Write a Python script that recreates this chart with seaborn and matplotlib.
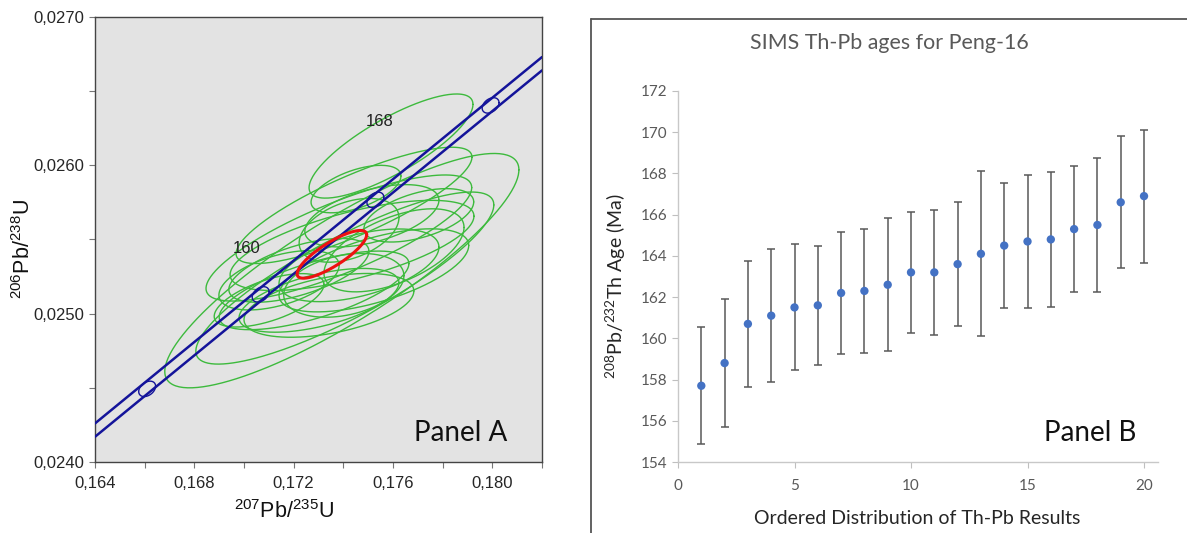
import numpy as np
import matplotlib
matplotlib.use("Agg")
import matplotlib.pyplot as plt
from matplotlib.lines import Line2D
from matplotlib.ticker import FuncFormatter, MultipleLocator
import seaborn as sns

# ---- Panel A: U-Pb concordia, 2-sigma error ellipses ----
ell_x = [0.17592, 0.17394, 0.17406, 0.17382, 0.17443, 0.17435, 0.17515, 0.17451,
         0.17302, 0.17342, 0.17282, 0.17402, 0.17463, 0.17523, 0.17221, 0.17141,
         0.17604, 0.17101, 0.17423, 0.17704]
ell_y = [0.026130, 0.025290, 0.025240, 0.025510, 0.025730, 0.025460, 0.025660, 0.025840,
         0.025090, 0.025056, 0.025157, 0.025191, 0.025326, 0.025292, 0.025292, 0.025225,
         0.025427, 0.025090, 0.025562, 0.025663]
ell_sx = [0.00330, 0.00713, 0.00600, 0.00535, 0.00475, 0.00491, 0.00270, 0.00181,
          0.00322, 0.00342, 0.00382, 0.00242, 0.00322, 0.00382, 0.00282, 0.00242,
          0.00282, 0.00221, 0.00201, 0.00221]
ell_sy = [0.000351, 0.000790, 0.000580, 0.000425, 0.000392, 0.000304, 0.000210, 0.000160,
          0.000215, 0.000215, 0.000265, 0.000215, 0.000245, 0.000280, 0.000215, 0.000200,
          0.000280, 0.000180, 0.000215, 0.000180]
ell_rho = [0.80, 0.86, 0.85, 0.80, 0.83, 0.65, 0.50, 0.55,
           0.55, 0.45, 0.68, 0.30, 0.50, 0.60, 0.60, 0.50,
           0.55, 0.60, 0.40, 0.50]

# concordia age ellipse
mean_x, mean_y, mean_sx, mean_sy, mean_rho = 0.17354, 0.025400, 0.00140, 0.000161, 0.82

# concordia band (decay constant errors) and age markers
conc_x = [0.164, 0.182]
conc_upper = [0.02426, 0.02673]
conc_lower = [0.02417, 0.02664]
marker_age = [156, 160, 164, 168]
marker_x = [0.16610, 0.17067, 0.17529, 0.17993]
marker_y = [0.024493, 0.025130, 0.025767, 0.026404]
label_age = ["160", "168"]
label_x = [0.17012, 0.17547]
label_y = [0.025440, 0.026298]

# ---- Panel B: SIMS Th-Pb ages ----
spot = list(range(1, 21))
age = [157.7, 158.8, 160.7, 161.1, 161.5, 161.6, 162.2, 162.3, 162.6, 163.2,
       163.2, 163.6, 164.1, 164.5, 164.7, 164.8, 165.3, 165.5, 166.6, 166.9]
err = [2.84, 3.10, 3.04, 3.21, 3.06, 2.87, 2.95, 3.00, 3.23, 2.94,
       3.02, 3.02, 4.00, 3.04, 3.21, 3.26, 3.07, 3.26, 3.21, 3.23]


def ellipse(cx, cy, sx, sy, rho, n=240):
    t = np.linspace(0, 2 * np.pi, n)
    x = cx + sx * np.cos(t)
    y = cy + sy * (rho * np.cos(t) + np.sqrt(1 - rho ** 2) * np.sin(t))
    return x, y


sns.set_theme(style="white")
plt.rcParams['font.family'] = ['Liberation Sans', 'DejaVu Sans']
plt.rcParams['mathtext.default'] = 'regular'
LATO = ['Lato', 'DejaVu Sans']

fig = plt.figure(figsize=(11.87, 5.33), dpi=100)
W, H = 1187, 533

# ---------------- Panel A ----------------
axA = fig.add_axes([95 / W, 1 - 462 / H, (542 - 95) / W, (462 - 17) / H])
axA.set_facecolor('#e3e3e3')

for cx, cy, sx, sy, r in zip(ell_x, ell_y, ell_sx, ell_sy, ell_rho):
    ex, ey = ellipse(cx, cy, sx, sy, r)
    axA.plot(ex, ey, color='#3dba3d', lw=1.0, zorder=2)

axA.plot(conc_x, conc_upper, color='#14149a', lw=1.8, zorder=3)
axA.plot(conc_x, conc_lower, color='#14149a', lw=1.8, zorder=3)
for mx, my in zip(marker_x, marker_y):
    ex, ey = ellipse(mx, my, 0.00034, 0.000052, 0.35)
    axA.plot(ex, ey, color='#14149a', lw=1.0, zorder=3)

ex, ey = ellipse(mean_x, mean_y, mean_sx, mean_sy, mean_rho)
axA.plot(ex, ey, color='#ee1111', lw=2.2, zorder=4)

for lab, lx, ly in zip(label_age, label_x, label_y):
    axA.text(lx, ly, lab, fontsize=12, color='#222222', ha='center', va='center', zorder=5)

axA.set_xlim(0.164, 0.182)
axA.set_ylim(0.0240, 0.0270)
axA.xaxis.set_major_locator(MultipleLocator(0.004))
axA.xaxis.set_minor_locator(MultipleLocator(0.002))
axA.yaxis.set_major_locator(MultipleLocator(0.001))
axA.yaxis.set_minor_locator(MultipleLocator(0.0005))
axA.xaxis.set_major_formatter(FuncFormatter(lambda v, p: f"{v:.3f}".replace('.', ',')))
axA.yaxis.set_major_formatter(FuncFormatter(lambda v, p: f"{v:.4f}".replace('.', ',')))
axA.tick_params(which='both', direction='out', length=4, width=0.8, color='#777777',
                labelsize=12, labelcolor='#262626', bottom=True, left=True)
axA.tick_params(axis='x', which='major', pad=6)
for s in axA.spines.values():
    s.set_color('#444444')
    s.set_linewidth(1.0)
axA.set_xlabel(r'$^{207}$Pb/$^{235}$U', fontsize=15.5, color='#111111')
axA.set_ylabel(r'$^{206}$Pb/$^{238}$U', fontsize=15.5, color='#111111')
axA.xaxis.set_label_coords(0.423, -0.085)
axA.yaxis.set_label_coords(-0.135, 0.479)
axA.text(0.714, 0.047, "Panel A", transform=axA.transAxes, fontsize=20,
         family=LATO, color='#111111', zorder=6)

# ---------------- Panel B ----------------
axB = fig.add_axes([678 / W, 1 - 462 / H, (1158 - 678) / W, (462 - 91) / H])
axB.errorbar(spot, age, yerr=err, fmt='none', ecolor='#595959', elinewidth=1.1,
             capsize=2.6, capthick=1.1, zorder=2)
sns.scatterplot(x=spot, y=age, ax=axB, color='#4472c4', s=36, edgecolor='none', zorder=3)
axB.set_xlim(0, 20.6)
axB.set_ylim(154, 172)
axB.set_xticks([0, 5, 10, 15, 20])
axB.set_yticks(list(range(154, 173, 2)))
axB.tick_params(direction='out', length=4, width=0.8, color='#bfbfbf',
                labelsize=11, labelcolor='#595959', bottom=True, left=True)
axB.tick_params(axis='x', pad=8)
for lbl in axB.get_xticklabels() + axB.get_yticklabels():
    lbl.set_fontfamily(LATO)
for side in ['top', 'right']:
    axB.spines[side].set_visible(False)
for side in ['left', 'bottom']:
    axB.spines[side].set_color('#c8c8c8')
    axB.spines[side].set_linewidth(1.0)
axB.set_xlabel("Ordered Distribution of Th-Pb Results", fontsize=14, color='#262626',
               family=LATO)
axB.set_ylabel(r'$^{208}$Pb/$^{232}$Th Age (Ma)', fontsize=14, color='#262626',
               family=LATO)
axB.xaxis.set_label_coords(0.499, -0.13)
axB.yaxis.set_label_coords(-0.105, 0.474)
axB.text(0.7625, 0.057, "Panel B", transform=axB.transAxes, fontsize=20,
         family=LATO, color='#111111')
fig.text(889.5 / W, 1 - 43 / H, "SIMS Th-Pb ages for Peng-16", ha='center', va='center',
         fontsize=15.4, color='#595959', family=LATO)

# chart frame around panel B
fig.add_artist(Line2D([591 / W, 1.0], [1 - 19 / H, 1 - 19 / H], color='#555555', lw=1.3))
fig.add_artist(Line2D([591 / W, 591 / W], [0, 1 - 19 / H], color='#555555', lw=1.3))

fig.savefig("out.png", dpi=100)
